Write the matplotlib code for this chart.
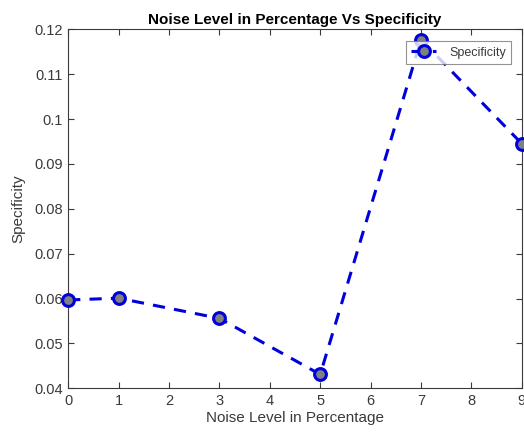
import matplotlib
matplotlib.use("Agg")
import matplotlib.pyplot as plt

# Data
noise_level = [0, 1, 3, 5, 7, 9]
specificity = [0.0597, 0.0601, 0.0556, 0.0431, 0.1177, 0.0945]

x_ticks = list(range(0, 10))
y_ticks = [0.04, 0.05, 0.06, 0.07, 0.08, 0.09, 0.10, 0.11, 0.12]
y_tick_labels = ["0.04", "0.05", "0.06", "0.07", "0.08", "0.09", "0.1", "0.11", "0.12"]

plt.rcParams["font.family"] = ["Liberation Sans", "DejaVu Sans"]
GRAY = "#3a3a3a"

fig = plt.figure(figsize=(5.24, 4.32), dpi=100)
ax = fig.add_axes([0.130, 0.101, 0.866, 0.831])

ax.plot(
    noise_level,
    specificity,
    linestyle="--",
    dashes=(4, 3),
    color="#0000dd",
    linewidth=2.2,
    marker="o",
    markersize=8.5,
    markerfacecolor="#808080",
    markeredgecolor="#0000dd",
    markeredgewidth=2.2,
    label="Specificity",
    clip_on=False,
    zorder=3,
)

ax.set_xlim(0, 9)
ax.set_ylim(0.04, 0.12)
ax.set_xticks(x_ticks)
ax.set_yticks(y_ticks)
ax.set_yticklabels(y_tick_labels)

ax.tick_params(direction="in", top=True, right=True, length=4, width=0.8,
               colors=GRAY, labelsize=10.5, labelcolor=GRAY, pad=4)
for spine in ax.spines.values():
    spine.set_color(GRAY)
    spine.set_linewidth(0.8)

ax.set_xlabel("Noise Level in Percentage", fontsize=11, color=GRAY, labelpad=2)
ax.set_ylabel("Specificity", fontsize=11, color=GRAY, labelpad=6)
ax.set_title("Noise Level in Percentage Vs Specificity", fontsize=11,
             fontweight="bold", color="black", pad=4)

leg = ax.legend(loc="upper right", fontsize=9, frameon=True, fancybox=False,
                edgecolor="#777777", handlelength=2.0, borderpad=0.45,
                handletextpad=1.0, bbox_to_anchor=(0.985, 0.978), borderaxespad=0.3)
leg.get_frame().set_linewidth(0.8)
for t in leg.get_texts():
    t.set_color(GRAY)

fig.savefig("out.png", dpi=100)
